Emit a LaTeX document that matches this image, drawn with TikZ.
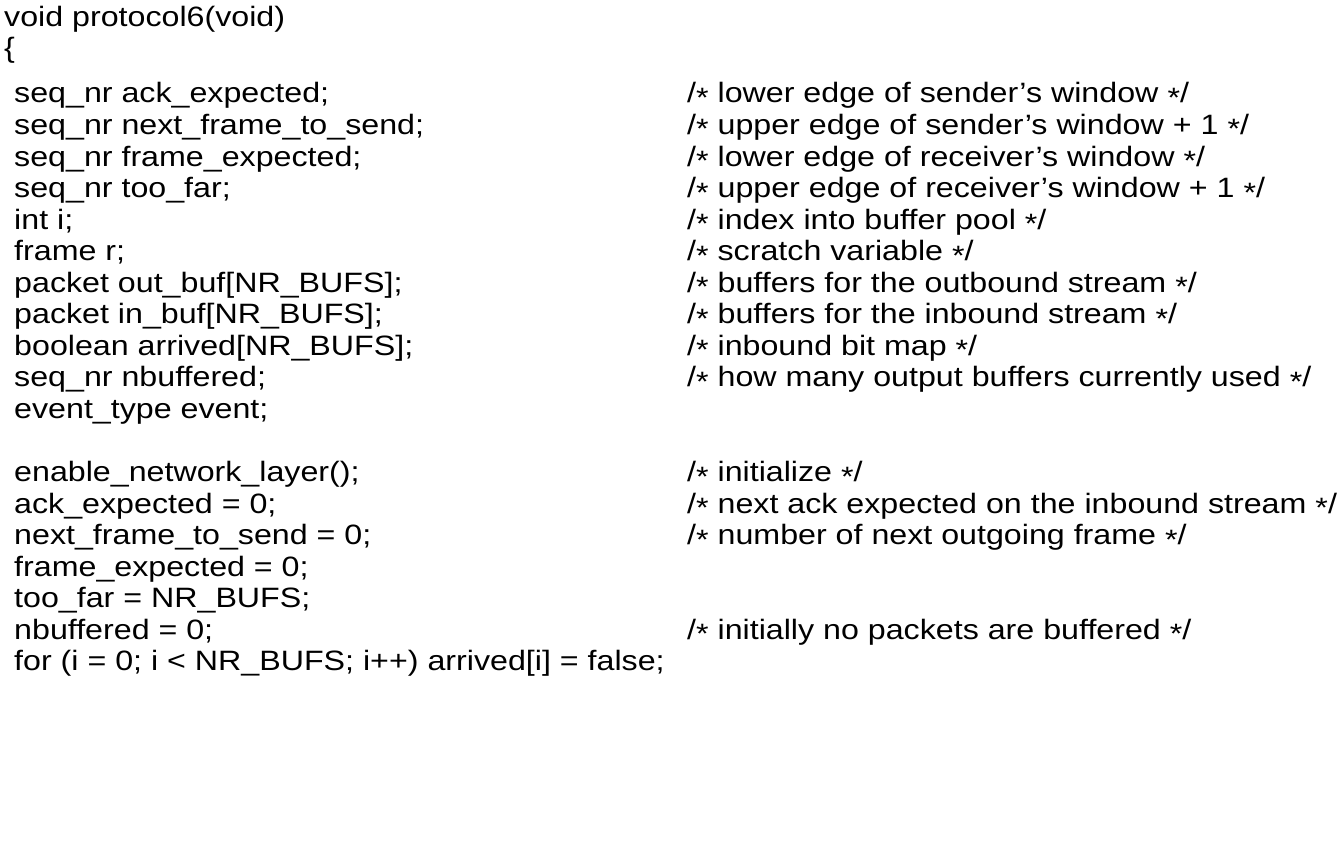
\documentclass[tikz,border=0pt]{standalone}
\usepackage{fontspec}
\setmainfont[FakeStretch=1.15]{Liberation Sans}
\newcommand{\st}{\raisebox{-0.3ex}{*}}
\begin{document}
\begin{tikzpicture}[x=1pt,y=-1pt,
  code/.style={anchor=base west,inner sep=0pt,font=\fontsize{28}{28}\selectfont}]
\useasboundingbox (0,0) rectangle (1341,842);
\node[code] (l0) at (4,27) {void protocol6(void)};
\node[code] (l1) at (4,58) {\{};
\foreach \i/\t/\c in {
 0/{seq\_nr ack\_expected;}/{/\st{} lower edge of sender's window \st/},
 1/{seq\_nr next\_frame\_to\_send;}/{/\st{} upper edge of sender's window + 1 \st/},
 2/{seq\_nr frame\_expected;}/{/\st{} lower edge of receiver's window \st/},
 3/{seq\_nr too\_far;}/{/\st{} upper edge of receiver's window + 1 \st/},
 4/{int i;}/{/\st{} index into buffer pool \st/},
 5/{frame r;}/{/\st{} scratch variable \st/},
 6/{packet out\_buf[NR\_BUFS];}/{/\st{} buffers for the outbound stream \st/},
 7/{packet in\_buf[NR\_BUFS];}/{/\st{} buffers for the inbound stream \st/},
 8/{boolean arrived[NR\_BUFS];}/{/\st{} inbound bit map \st/},
 9/{seq\_nr nbuffered;}/{/\st{} how many output buffers currently used \st/},
 10/{event\_type event;}/{},
 12/{enable\_network\_layer();}/{/\st{} initialize \st/},
 13/{ack\_expected = 0;}/{/\st{} next ack expected on the inbound stream \st/},
 14/{next\_frame\_to\_send = 0;}/{/\st{} number of next outgoing frame \st/},
 15/{frame\_expected = 0;}/{},
 16/{too\_far = NR\_BUFS;}/{},
 17/{nbuffered = 0;}/{/\st{} initially no packets are buffered \st/},
 18/{for (i = 0; i < NR\_BUFS; i++) arrived[i] = false;}/{}}
{
  \node[code] (c\i) at (14,{103+31.55*\i}) {\t};
  \node[code] (m\i) at (687,{103+31.55*\i}) {\c};
}
\end{tikzpicture}
\end{document}
